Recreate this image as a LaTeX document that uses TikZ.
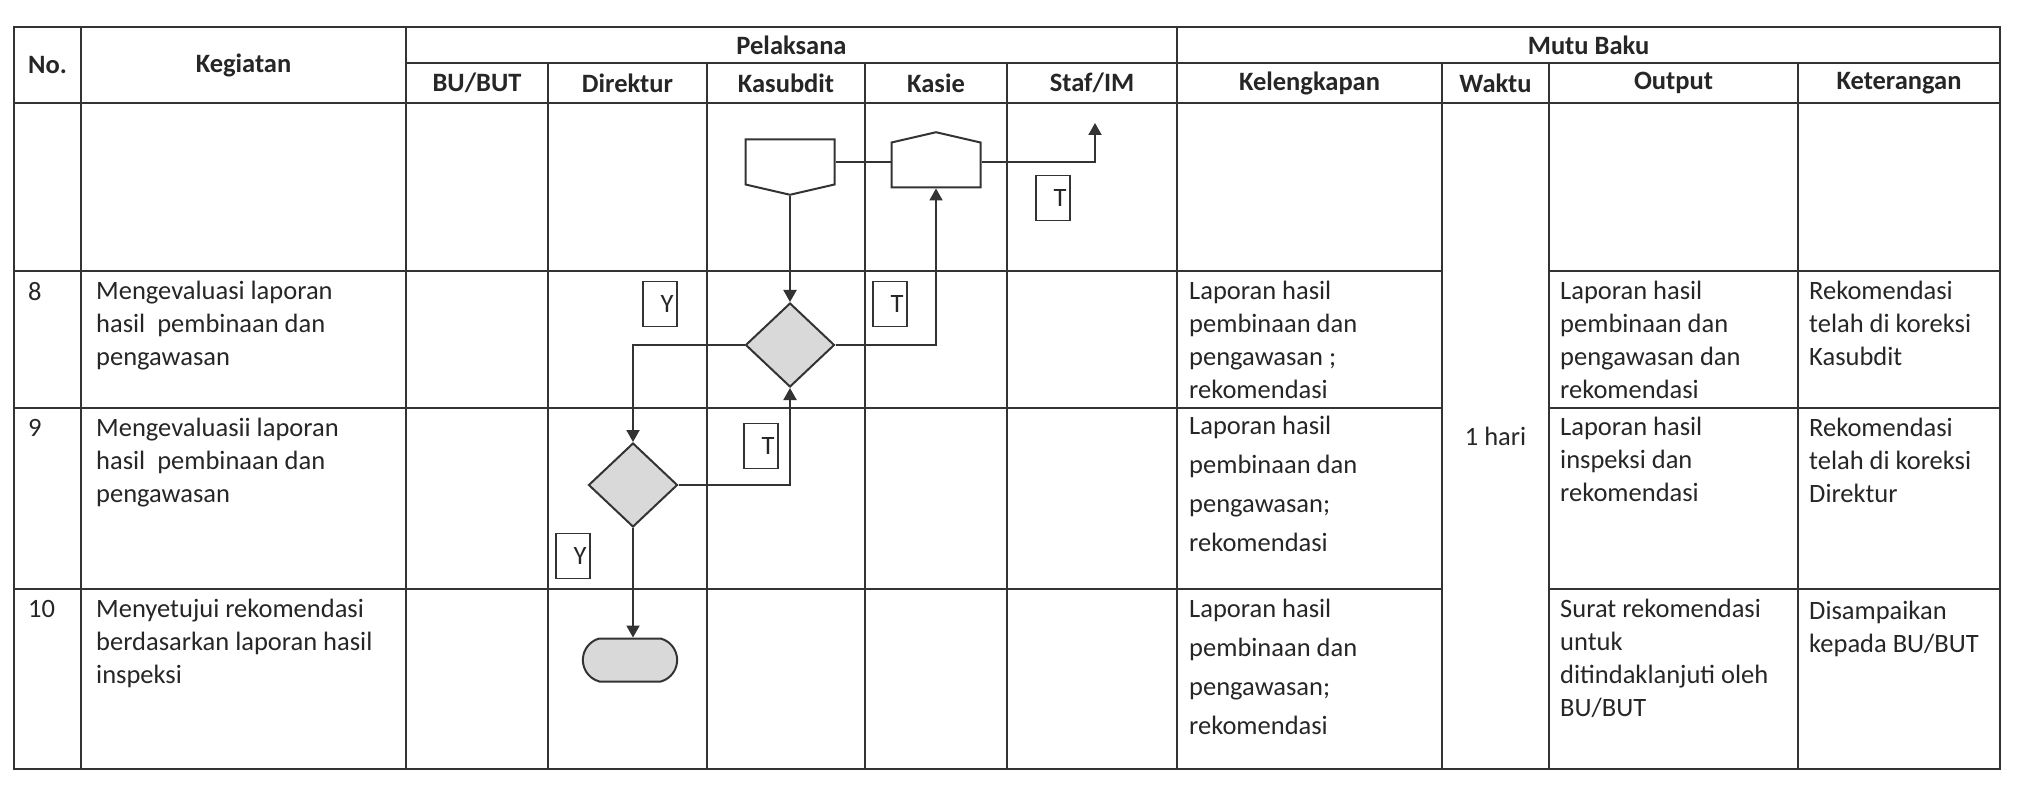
\documentclass[tikz,border=0pt]{standalone}
\usepackage{fontspec}
\setmainfont{Carlito}
\usetikzlibrary{shapes.geometric,shapes.symbols,shapes.misc,arrows.meta}

\begin{document}
\begin{tikzpicture}[x=1pt, y=-1pt,
    tableline/.style={line width=1.6pt, draw=black!80},
    head/.style={font=\fontsize{26.5}{33}\selectfont\bfseries, text=black!85},
    cell/.style={font=\fontsize{26.5}{33}\selectfont, text=black!85, align=left, anchor=north west, inner sep=0pt},
    cellwide/.style={cell, font=\fontsize{26.5}{39}\selectfont},
    flow/.style={line width=2pt, draw=black!80},
    decision/.style={flow, diamond, fill=gray!30, minimum width=89pt, minimum height=84pt, inner sep=0pt},
    offpage/.style={flow, signal, signal from=nowhere, signal pointer angle=154, minimum width=89pt, minimum height=45pt, inner sep=0pt},
    tag/.style={draw=black!80, line width=1.6pt, minimum width=34pt, minimum height=45pt, inner sep=0pt, text width=27pt, align=right, font=\fontsize{26.5}{33}\selectfont, text=black!85},
    >={Triangle[length=12pt,width=13pt]}]

    \useasboundingbox (0,0) rectangle (2017,791);

    %Draw table frame and lines
    \draw[tableline] (14,27) rectangle (2000,769);
    \draw[tableline] (406,63) -- (2000,63);
    \draw[tableline] (14,103) -- (2000,103);
    \draw[tableline] (14,271) -- (1442,271) (1549,271) -- (2000,271);
    \draw[tableline] (14,408) -- (1442,408) (1549,408) -- (2000,408);
    \draw[tableline] (14,589) -- (1442,589) (1549,589) -- (2000,589);
    \draw[tableline] (81,27) -- (81,769);
    \draw[tableline] (406,27) -- (406,769);
    \draw[tableline] (548,63) -- (548,769);
    \draw[tableline] (707,63) -- (707,769);
    \draw[tableline] (865,63) -- (865,769);
    \draw[tableline] (1007,63) -- (1007,769);
    \draw[tableline] (1177,27) -- (1177,769);
    \draw[tableline] (1442,63) -- (1442,769);
    \draw[tableline] (1549,63) -- (1549,769);
    \draw[tableline] (1798,63) -- (1798,769);

    %Place header nodes
    \node[head] (no) at (47.5,65) {No.};
    \node[head] (kegiatan) at (243.5,65) {Kegiatan};
    \node[head] (pelaksana) at (791.5,45) {Pelaksana};
    \node[head] (mutu-baku) at (1588.5,45) {Mutu Baku};
    \node[head] (bu-but) at (477,83) {BU/BUT};
    \node[head] (direktur) at (627.5,83) {Direktur};
    \node[head] (kasubdit) at (786,83) {Kasubdit};
    \node[head] (kasie) at (936,83) {Kasie};
    \node[head] (staf) at (1092,83) {Staf/IM};
    \node[head] (kelengkapan) at (1309.5,83) {Kelengkapan};
    \node[head] (waktu) at (1495.5,83) {Waktu};
    \node[head] (output) at (1673.5,83) {Output};
    \node[head] (keterangan) at (1899,83) {Keterangan};

    %Place row 8 nodes
    \node[cell] (no-8) at (28,282) {8};
    \node[cell] (keg-8) at (96,281) {Mengevaluasi laporan\\hasil~ pembinaan dan\\pengawasan};
    \node[cell] (kel-8) at (1189,281) {Laporan hasil\\pembinaan dan\\pengawasan ;\\rekomendasi};
    \node[cell] (out-8) at (1560,281) {Laporan hasil\\pembinaan dan\\pengawasan dan\\rekomendasi};
    \node[cell] (ket-8) at (1809,281) {Rekomendasi\\telah di koreksi\\Kasubdit};

    %Place row 9 nodes
    \node[cell] (no-9) at (28,419) {9};
    \node[cell] (keg-9) at (96,418) {Mengevaluasii laporan\\hasil~ pembinaan dan\\pengawasan};
    \node[cellwide] (kel-9) at (1189,416) {Laporan hasil\\pembinaan dan\\pengawasan;\\rekomendasi};
    \node[cell] (out-9) at (1560,417) {Laporan hasil\\inspeksi dan\\rekomendasi};
    \node[cell] (ket-9) at (1809,418) {Rekomendasi\\telah di koreksi\\Direktur};

    %Place row 10 nodes
    \node[cell] (no-10) at (28,600) {10};
    \node[cell] (keg-10) at (96,599) {Menyetujui rekomendasi\\berdasarkan laporan hasil\\inspeksi};
    \node[cellwide] (kel-10) at (1189,599) {Laporan hasil\\pembinaan dan\\pengawasan;\\rekomendasi};
    \node[cell] (out-10) at (1560,599) {Surat rekomendasi\\untuk\\ditindaklanjuti oleh\\BU/BUT};
    \node[cell] (ket-10) at (1809,601) {Disampaikan\\kepada BU/BUT};

    %Place waktu node
    \node[font=\fontsize{26.5}{33}\selectfont, text=black!85] (waktu-val) at (1495.5,436) {1 hari};

    %Place flow nodes
    \node[offpage, signal to=south] (kasubdit-out) at (790,162) {};
    \node[offpage, signal to=north] (kasie-in) at (936,165) {};
    \coordinate (staf-out) at (1095,123);
    \node[decision] (dec-kasubdit) at (790,345) {};
    \node[decision] (dec-direktur) at (633,485) {};
    \node[flow, rounded rectangle, rounded rectangle arc length=150, fill=gray!30, minimum width=101pt, minimum height=43pt] (finish) at (630,660) {};

    %Place Y and T nodes
    \node[tag] (y-kasubdit) at (660,304) {Y};
    \node[tag] (t-kasubdit) at (890,304) {T};
    \node[tag] (t-staf) at (1053,198) {T};
    \node[tag] (t-direktur) at (761,446) {T};
    \node[tag] (y-direktur) at (573,556) {Y};

    %Draw arrows
    \draw[flow] (kasubdit-out.east) -- (kasie-in.west |- kasubdit-out.east);
    \draw[flow, ->] (kasie-in.east |- kasubdit-out.east) -| (staf-out);
    \draw[flow, ->] (kasubdit-out.south) -- (dec-kasubdit.north);
    \draw[flow, ->] (dec-kasubdit.east) -| (kasie-in.south);
    \draw[flow, ->] (dec-kasubdit.west) -| (dec-direktur.north);
    \draw[flow, ->] (dec-direktur.east) -| (dec-kasubdit.south);
    \draw[flow, ->] (dec-direktur.south) -- (finish.north -| dec-direktur.south);
\end{tikzpicture}
\end{document}
